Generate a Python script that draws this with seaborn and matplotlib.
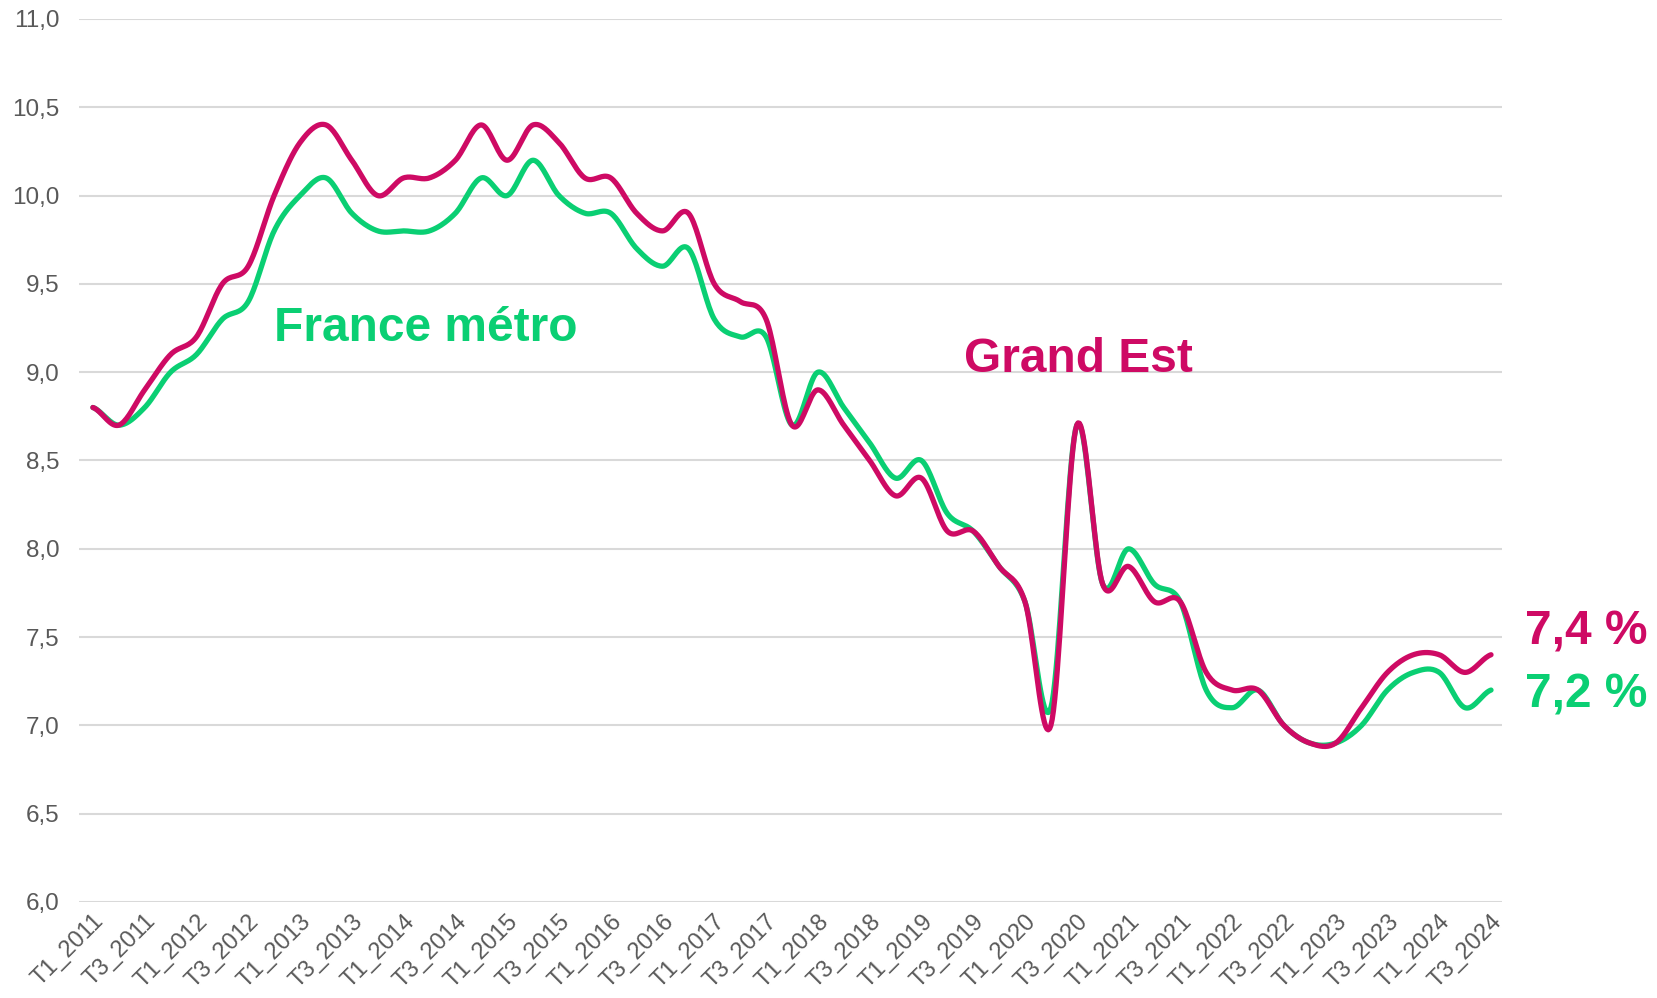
import numpy as np
import pandas as pd
import matplotlib
matplotlib.use("Agg")
import matplotlib.pyplot as plt
import seaborn as sns

# ---- data (quarterly unemployment rate, %) ----
years = list(range(2011, 2025))
quarters = [f"T{q}_{y}" for y in years for q in (1, 2, 3, 4)][:55]

grand_est = [8.8, 8.7, 8.9, 9.1, 9.2, 9.5, 9.6, 10.0, 10.3, 10.4,
             10.2, 10.0, 10.1, 10.1, 10.2, 10.4, 10.2, 10.4, 10.3, 10.1,
             10.1, 9.9, 9.8, 9.9, 9.5, 9.4, 9.3, 8.7, 8.9, 8.7,
             8.5, 8.3, 8.4, 8.1, 8.1, 7.9, 7.7, 7.0, 8.7, 7.8,
             7.9, 7.7, 7.7, 7.3, 7.2, 7.2, 7.0, 6.9, 6.9, 7.1,
             7.3, 7.4, 7.4, 7.3, 7.4]
france = [8.8, 8.7, 8.8, 9.0, 9.1, 9.3, 9.4, 9.8, 10.0, 10.1,
          9.9, 9.8, 9.8, 9.8, 9.9, 10.1, 10.0, 10.2, 10.0, 9.9,
          9.9, 9.7, 9.6, 9.7, 9.3, 9.2, 9.2, 8.7, 9.0, 8.8,
          8.6, 8.4, 8.5, 8.2, 8.1, 7.9, 7.7, 7.1, 8.7, 7.8,
          8.0, 7.8, 7.7, 7.2, 7.1, 7.2, 7.0, 6.9, 6.9, 7.0,
          7.2, 7.3, 7.3, 7.1, 7.2]

yticks = [6.0, 6.5, 7.0, 7.5, 8.0, 8.5, 9.0, 9.5, 10.0, 10.5, 11.0]

MAGENTA = "#CE0A64"
GREEN = "#0ACF73"
GREY = "#595959"


def smooth(vals, n=20):
    """Excel-like smoothed line (Catmull-Rom Bezier segments)."""
    y = np.asarray(vals, float)
    p = np.concatenate([[y[0]], y, [y[-1]]])
    xs, ys = [], []
    t = np.linspace(0, 1, n, endpoint=False)
    for i in range(len(y) - 1):
        p0, p1, p2, p3 = p[i], p[i + 1], p[i + 2], p[i + 3]
        c1 = p1 + (p2 - p0) / 6.0
        c2 = p2 - (p3 - p1) / 6.0
        b = (1 - t) ** 3 * p1 + 3 * (1 - t) ** 2 * t * c1 + 3 * (1 - t) * t ** 2 * c2 + t ** 3 * p2
        xs.append(i + t)
        ys.append(b)
    xs.append([len(y) - 1])
    ys.append([y[-1]])
    return np.concatenate(xs), np.concatenate(ys)


sns.set_theme(style="white")
plt.rcParams["font.family"] = ["Liberation Sans", "DejaVu Sans"]

fig = plt.figure(figsize=(16.58, 9.98), dpi=100)
ax = fig.add_axes([0.0476, 0.0962, 0.8584, 0.8848])

fx, fy = smooth(france)
gx, gy = smooth(grand_est)
df_f = pd.DataFrame({"x": fx, "y": fy})
df_g = pd.DataFrame({"x": gx, "y": gy})

sns.lineplot(data=df_f, x="x", y="y", ax=ax, color=GREEN, linewidth=3.8,
             estimator=None, sort=False, solid_capstyle="round")
sns.lineplot(data=df_g, x="x", y="y", ax=ax, color=MAGENTA, linewidth=3.8,
             estimator=None, sort=False, solid_capstyle="round")

ax.set_xlim(-0.54, len(quarters) - 1 + 0.43)
ax.set_ylim(6.0, 11.0)
ax.set_yticks(yticks)
ax.set_yticklabels([f"{v:.1f}".replace(".", ",") for v in yticks],
                   color=GREY, fontsize=17.5)
ax.yaxis.grid(True, color="#D9D9D9", linewidth=1.5)
ax.xaxis.grid(False)
for s in ax.spines.values():
    s.set_visible(False)
ax.tick_params(axis="y", length=0, pad=14)
ax.tick_params(axis="x", length=0, pad=6)

tick_pos = list(range(0, len(quarters), 2))
ax.set_xticks(tick_pos)
ax.set_xticklabels([quarters[i] for i in tick_pos], rotation=45, ha="right",
                   rotation_mode="anchor", color=GREY, fontsize=17)
ax.set_xlabel("")
ax.set_ylabel("")

ax.text(7.0, 9.25, "France métro", color=GREEN, fontsize=34.5, fontweight="bold",
        ha="left", va="center")
ax.text(33.65, 9.07, "Grand Est", color=MAGENTA, fontsize=34.5, fontweight="bold",
        ha="left", va="center")
ax.text(len(quarters) - 1 + 1.3, 7.53, "7,4 %", color=MAGENTA, fontsize=34.5,
        fontweight="bold", ha="left", va="center", clip_on=False)
ax.text(len(quarters) - 1 + 1.3, 7.17, "7,2 %", color=GREEN, fontsize=34.5,
        fontweight="bold", ha="left", va="center", clip_on=False)

fig.savefig("out.png", dpi=100)
